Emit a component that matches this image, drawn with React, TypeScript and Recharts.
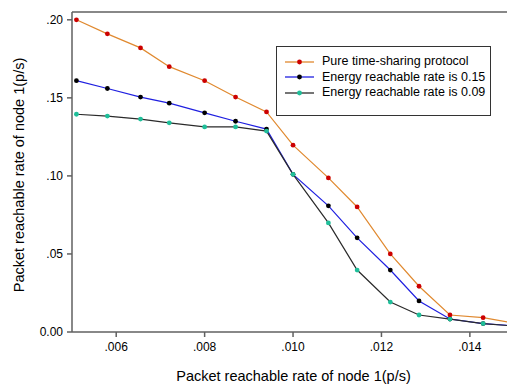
import { Line, LineChart, ReferenceLine, XAxis, YAxis, Legend } from "recharts";

const rates = [0.0051, 0.0058, 0.00655, 0.0072, 0.008, 0.0087, 0.0094, 0.01, 0.0108, 0.01145, 0.0122, 0.01285, 0.01355, 0.0143, 0.015];
const pureTimeSharing = [0.2, 0.191, 0.182, 0.17, 0.161, 0.1505, 0.141, 0.1197, 0.0987, 0.0801, 0.05, 0.0293, 0.0109, 0.0092, 0.0056];
const energy015 = [0.161, 0.156, 0.1505, 0.1466, 0.1404, 0.135, 0.13, 0.101, 0.0808, 0.0603, 0.0397, 0.0199, 0.0083, 0.0054, 0.004];
const energy009 = [0.1395, 0.1383, 0.1364, 0.134, 0.1314, 0.1314, 0.1287, 0.101, 0.0699, 0.0397, 0.0192, 0.0109, 0.0083, 0.0054, 0.0038];

const xTicks = [0.006, 0.008, 0.01, 0.012, 0.014];
const yTicks = [0, 0.05, 0.1, 0.15, 0.2];

const series = [
  { key: "pure", name: "Pure time-sharing protocol", line: "#e0892f", dot: "#cc0000" },
  { key: "e15", name: "Energy reachable rate is 0.15", line: "#1f1fe0", dot: "#000000" },
  { key: "e09", name: "Energy reachable rate is 0.09", line: "#2a2a2a", dot: "#1fbf9a" }
];

const data = rates.map((x, i) => ({
  x,
  pure: pureTimeSharing[i],
  e15: energy015[i],
  e09: energy009[i]
}));

const frame = "#606060";
const font = 'Arial, "Liberation Sans", sans-serif';

const fmtX = (v: number) => v.toFixed(3).replace(/^0/, "");
const fmtY = (v: number) => (v === 0 ? "0.00" : v.toFixed(2).replace(/^0/, ""));

function LegendBox() {
  return (
    <div
      style={{
        border: "1px solid #333",
        background: "#fff",
        width: 213,
        height: 61,
        boxSizing: "content-box",
        paddingTop: 7
      }}
    >
      {series.map((s) => (
        <div key={s.key} style={{ display: "flex", alignItems: "center", height: 15.5 }}>
          <svg width={45} height={10} style={{ display: "block" }}>
            <line x1={8} x2={37} y1={5} y2={5} stroke={s.line} strokeWidth={1.3} />
            <circle cx={22.5} cy={5} r={2.4} fill={s.dot} />
          </svg>
          <span style={{ fontSize: 12.5, color: "#000", fontFamily: font, lineHeight: "15px" }}>{s.name}</span>
        </div>
      ))}
    </div>
  );
}

export default function App() {
  return (
    <div style={{ position: "absolute", left: 0, top: 0, width: 507, height: 385, background: "#fff", fontFamily: font }}>
      <LineChart width={507} height={385} data={data} margin={{ top: 12, right: 0, bottom: 0, left: 0 }}>
        <XAxis
          dataKey="x"
          type="number"
          domain={[0.005, 0.01484]}
          allowDataOverflow
          ticks={xTicks}
          tickFormatter={fmtX}
          height={53}
          tickSize={5}
          tickMargin={5}
          axisLine={{ stroke: frame, strokeWidth: 1.5 }}
          tickLine={{ stroke: frame, strokeWidth: 1.5 }}
          tick={{ fill: "#000", fontSize: 12, fontFamily: font }}
          label={{
            value: "Packet reachable rate of node 1(p/s)",
            position: "insideBottom",
            offset: 4,
            dx: 4,
            style: { fill: "#000", fontSize: 14.5, fontFamily: font }
          }}
        />
        <YAxis
          type="number"
          domain={[0, 0.205]}
          allowDataOverflow
          ticks={yTicks}
          tickFormatter={fmtY}
          width={72}
          tickSize={5}
          tickMargin={4}
          axisLine={{ stroke: frame, strokeWidth: 1.5 }}
          tickLine={{ stroke: frame, strokeWidth: 1.5 }}
          tick={{ fill: "#000", fontSize: 12, fontFamily: font }}
          label={{
            value: "Packet reachable rate of node 1(p/s)",
            angle: -90,
            position: "center",
            dx: -17,
            dy: 3,
            style: { fill: "#000", fontSize: 14.5, fontFamily: font, textAnchor: "middle" }
          }}
        />
        <ReferenceLine y={0.205} stroke={frame} strokeWidth={1.5} />
        {series.map((s) => (
          <Line
            key={s.key}
            dataKey={s.key}
            name={s.name}
            type="linear"
            stroke={s.line}
            strokeWidth={1.2}
            dot={{ r: 2.4, fill: s.dot, stroke: "none" }}
            activeDot={false}
            isAnimationActive={false}
          />
        ))}
        <Legend
          layout="vertical"
          align="center"
          verticalAlign="middle"
          wrapperStyle={{ left: 276, top: 46, width: 215 }}
          content={() => <LegendBox />}
        />
      </LineChart>
    </div>
  );
}
